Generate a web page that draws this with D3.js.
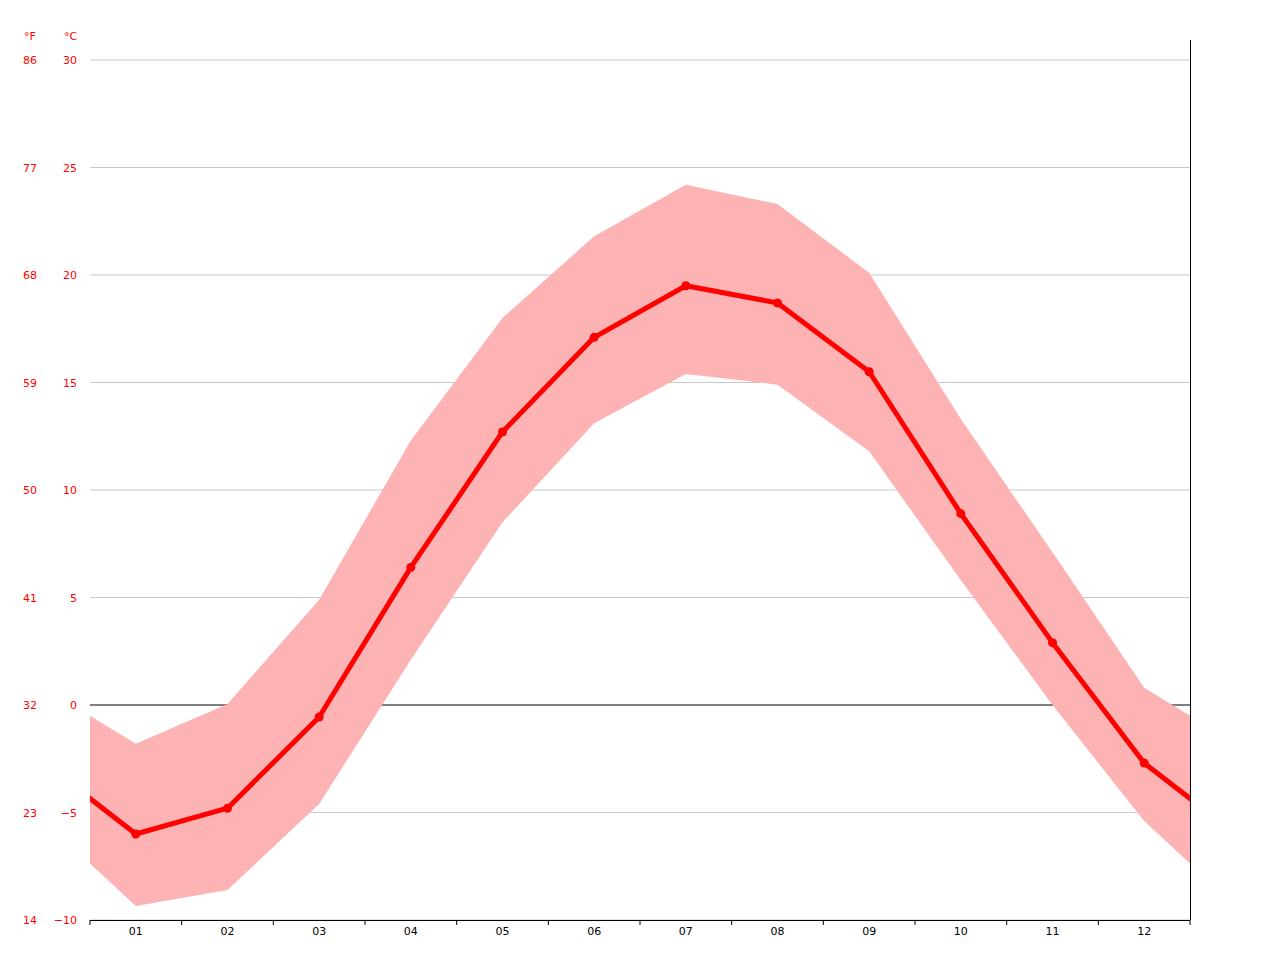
<!DOCTYPE html><html><head><meta charset="utf-8"><script src="https://cdn.jsdelivr.net/npm/d3@7"></script>
<style>body{margin:0;background:#fff}text{font-family:"DejaVu Sans";font-size:11px}</style></head><body>
<svg id="c" width="1280" height="960"></svg>
<script>
const months=["01","02","03","04","05","06","07","08","09","10","11","12"];
const meanT=[-6.0,-4.8,-0.56,6.4,12.7,17.1,19.5,18.7,15.5,8.9,2.9,-2.7];
const highT=[-1.8,0.05,4.9,12.3,18.0,21.8,24.2,23.3,20.1,13.3,7.1,0.8];
const lowT=[-9.35,-8.6,-4.6,2.1,8.5,13.1,15.4,14.9,11.8,5.8,0,-5.4];
const cTicks=[-10,-5,0,5,10,15,20,25,30];
const svg=d3.select("#c");
const x0=90,x1=1190;
const x=d3.scaleLinear().domain([0,12]).range([x0,x1]);
const y=d3.scaleLinear().domain([-10,30]).range([920,60]);
const ext=a=>[a[11],...a,a[0]];
const xs=i=>x(i-0.5); // index in extended array: 0 => Dec (-1)
svg.append("defs").append("clipPath").attr("id","cl").append("rect").attr("x",x0).attr("y",0).attr("width",x1-x0).attr("height",960);
const g=svg.append("g");
cTicks.forEach(t=>{
 g.append("line").attr("x1",x0).attr("x2",x1).attr("y1",y(t)).attr("y2",y(t)).attr("stroke",t===0?"#000":"#c8c8c8").attr("stroke-width",1);
 g.append("text").attr("x",70).attr("y",y(t)+4).attr("text-anchor","end").attr("fill","red").text(t<0?"\u2212"+(-t):t).attr("x",77).attr("text-anchor","end");
 g.append("text").attr("x",37).attr("y",y(t)+4).attr("text-anchor","end").attr("fill","red").text(Math.round(t*9/5+32));
});
g.append("text").attr("x",24).attr("y",40).attr("fill","red").attr("font-family","DejaVu Serif").text("°F");
g.append("text").attr("x",64).attr("y",40).attr("fill","red").attr("font-family","DejaVu Serif").text("°C");
const hi=ext(highT),lo=ext(lowT),mn=ext(meanT);
const area=d3.area().x((d,i)=>xs(i)).y0((d,i)=>y(lo[i])).y1(d=>y(d));
const p=svg.append("g").attr("clip-path","url(#cl)");
p.append("path").attr("d",area(hi)).attr("fill","#fdb3b3");
p.append("path").attr("d",d3.line().x((d,i)=>xs(i)).y(d=>y(d))(mn)).attr("fill","none").attr("stroke","red").attr("stroke-width",5).attr("stroke-linejoin","round");
svg.selectAll("circle").data(meanT).join("circle").attr("cx",(d,i)=>x(i+0.5)).attr("cy",d=>y(d)).attr("r",4.5).attr("fill","red");
svg.append("line").attr("x1",x0).attr("x2",x1).attr("y1",920.5).attr("y2",920.5).attr("stroke","#000");
svg.append("line").attr("x1",x1+0.5).attr("x2",x1+0.5).attr("y1",40).attr("y2",920).attr("stroke","#000");
d3.range(13).forEach(i=>svg.append("line").attr("x1",x(i)).attr("x2",x(i)).attr("y1",920).attr("y2",925).attr("stroke","#000"));
months.forEach((m,i)=>svg.append("text").attr("x",x(i+0.5)).attr("y",935).attr("text-anchor","middle").attr("fill","#000").text(m));
</script></body></html>
